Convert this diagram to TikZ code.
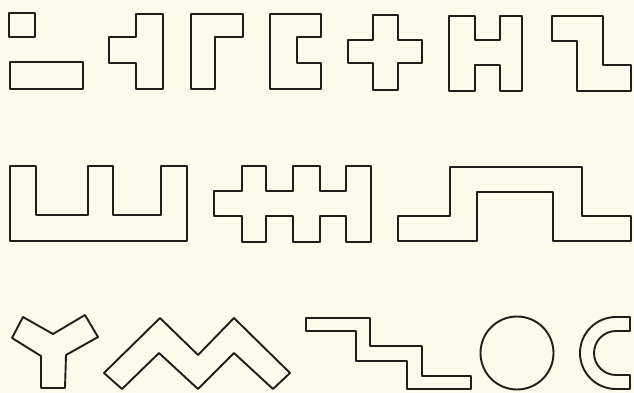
\documentclass[tikz,border=0pt]{standalone}
\usepackage{tikz}
\usepackage{xcolor}
\definecolor{papier}{RGB}{252,250,234}
\definecolor{tinte}{RGB}{30,30,28}

\begin{document}
\begin{tikzpicture}[x=1pt, y=-1pt,
        figura/.style={draw=tinte, line width=1.9pt, line join=round},
        fondo/.style={fill=papier, draw=none}
    ]
        % Hoja de fondo (fija el marco de la figura)
        \fill [fondo] (0,0) rectangle (634,393);
        \useasboundingbox (0,0) rectangle (634,393);

        % Primera fila
        \draw [figura] (9,13) rectangle (35,37);
        \draw [figura] (10,62) rectangle (83,89);
        \draw [figura] (136,14) -- (163,14) -- (163,89) -- (136,89) -- (136,63) -- (109,63) -- (109,37) -- (136,37) -- cycle;
        \draw [figura] (191,14) -- (243,14) -- (243,37) -- (215,37) -- (215,89) -- (191,89) -- cycle;
        \draw [figura] (270,14) -- (321,14) -- (321,37) -- (297,37) -- (297,63) -- (321,63) -- (321,89) -- (270,89) -- cycle;
        \draw [figura] (373,15) -- (398,15) -- (398,40) -- (422,40) -- (422,63) -- (398,63) -- (398,90) -- (373,90) -- (373,63) -- (348,63) -- (348,40) -- (373,40) -- cycle;
        \draw [figura] (449,16) -- (475,16) -- (475,40) -- (500,40) -- (500,16) -- (522,16) -- (522,91) -- (500,91) -- (500,65) -- (475,65) -- (475,91) -- (449,91) -- cycle;
        \draw [figura] (552,16) -- (603,16) -- (603,65) -- (631,65) -- (631,91) -- (577,91) -- (577,41) -- (552,41) -- cycle;

        % Segunda fila
        \draw [figura] (10,166) -- (36,166) -- (36,215) -- (88,215) -- (88,166) -- (113,166) -- (113,215) -- (161,215) -- (161,166) -- (187,166) -- (187,241) -- (10,241) -- cycle;
        \draw [figura] (214,191) -- (242,191) -- (242,166) -- (266,166) -- (266,191) -- (293,191) -- (293,166) -- (320,166) -- (320,191) -- (346,191) -- (346,166) -- (371,166) -- (371,242)
            -- (346,242) -- (346,216) -- (320,216) -- (320,242) -- (293,242) -- (293,216) -- (266,216) -- (266,242) -- (242,242) -- (242,216) -- (214,216) -- cycle;
        \draw [figura] (398,216) -- (450,216) -- (450,167) -- (582,167) -- (582,216) -- (631,216) -- (631,241) -- (553,241) -- (553,192) -- (477,192) -- (477,241) -- (398,241) -- cycle;

        % Tercera fila
        \draw [figura] (23,317) -- (53,334) -- (85,315) -- (98,337) -- (66,355) -- (65,388) -- (41,388) -- (41,356) -- (12,338) -- cycle;
        \draw [figura] (104,373) -- (160,318) -- (198,355) -- (234,318) -- (290,373) -- (273,389) -- (234,353) -- (198,389) -- (159,353) -- (122,389) -- cycle;
        \draw [figura] (306,318) -- (370,318) -- (370,346) -- (422,346) -- (422,376) -- (471,376) -- (471,389) -- (407,389) -- (407,361) -- (356,361) -- (356,331) -- (306,331) -- cycle;
        \draw [figura] (517,353) circle [radius=36.5];
        \draw [figura] (630,317) -- (616,317) arc [start angle=270, end angle=90, radius=36] -- (630,389) -- (630,375) -- (616,375)
            arc [start angle=90, end angle=270, radius=22] -- (630,331) -- cycle;
    \end{tikzpicture}
\end{document}
